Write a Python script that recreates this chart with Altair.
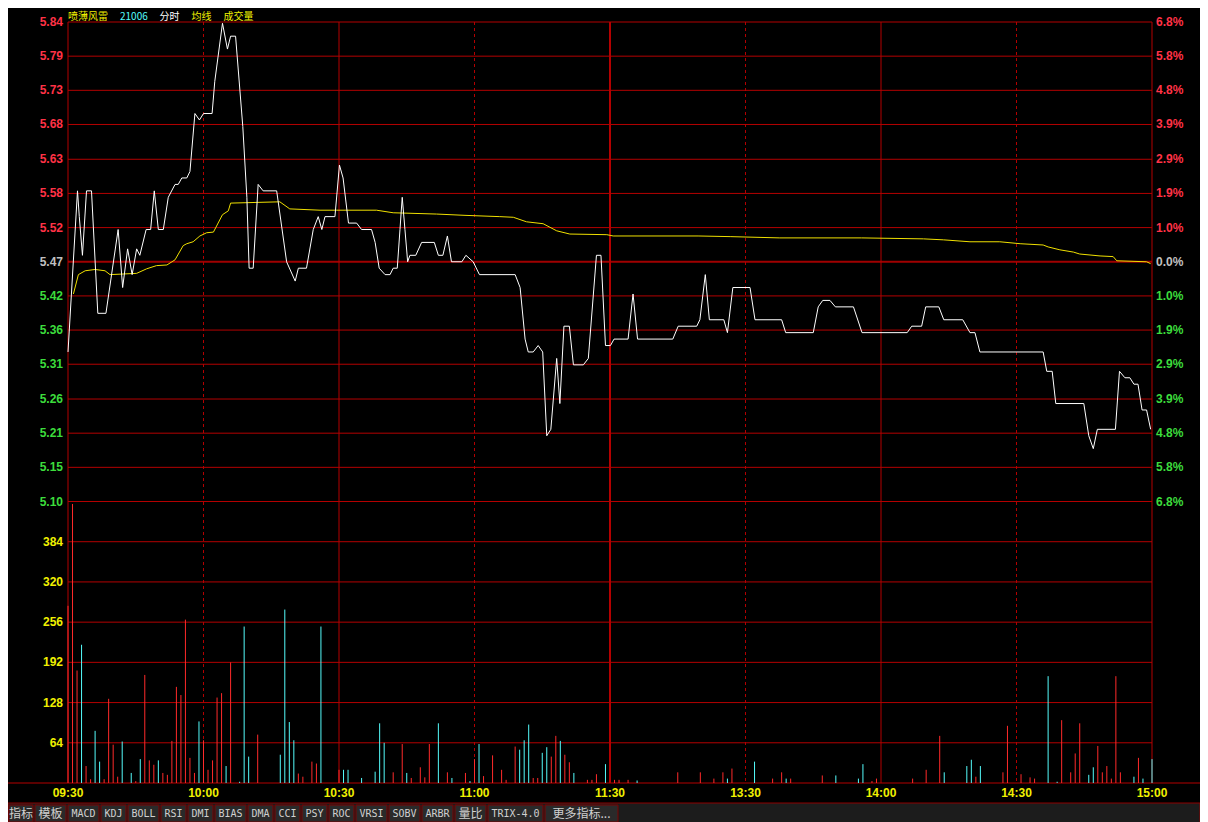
import altair as alt
import pandas as pd

# ---------------- data ----------------
STOCK_NAME = "喷薄风雷"
STOCK_CODE = "21006"

price_minutes = [0, 2.1, 2.5, 3.2, 4.1, 5.2, 6.6, 8.4, 11.1, 12.1, 13.2, 14.2, 15.2, 15.9,
                 17.3, 18.3, 19.1, 20.0, 21.1, 22.2, 23.7, 24.4, 25.2, 26.3, 27.0, 28.1,
                 29.1, 30.0, 31.9, 32.5, 34.2, 35.3, 36.0, 37.1, 38.7, 39.6, 40.1, 41.0,
                 42.1, 43.2, 46.2, 48.4, 50.3, 51.0, 52.8, 54.3, 55.4, 56.2, 56.9, 59.1,
                 60.1, 60.9, 62.1, 63.9, 65.0, 67.2, 68.0, 68.9, 70.2, 71.3, 72.0, 72.9,
                 73.5, 74.0, 74.6, 75.2, 75.7, 77.0, 78.3, 81.1, 82.0, 83.0, 84.0, 84.9,
                 87.2, 88.1, 89.7, 91.1, 99.0, 100.1, 101.2, 101.9, 103.0, 104.1, 105.1,
                 106.0, 106.9, 108.2, 108.9, 109.8, 111.0, 111.9, 114.1, 115.2, 117.0,
                 118.0, 119.0, 120.1, 120.9, 124.0, 125.1, 126.1, 133.9, 135.1, 139.2,
                 139.9, 141.1, 142.0, 145.2, 146.0, 147.2, 151.0, 152.1, 158.0, 158.9,
                 165.0, 166.1, 167.1, 168.7, 169.9, 173.9, 175.8, 185.8, 186.8, 189.0,
                 189.9, 192.8, 193.9, 198.1, 199.7, 200.8, 201.9, 215.9, 216.7, 217.9,
                 218.7, 224.9, 226.0, 227.0, 227.9, 231.9, 232.8, 234.0, 235.1, 236.0,
                 236.9, 237.8, 238.8, 239.7]
price_values = [5.33, 5.58, 5.54, 5.48, 5.58, 5.58, 5.39, 5.39, 5.52, 5.43, 5.49, 5.45, 5.49, 5.48,
                5.52, 5.52, 5.58, 5.52, 5.52, 5.57, 5.59, 5.59, 5.60, 5.60, 5.61, 5.70,
                5.69, 5.70, 5.70, 5.75, 5.84, 5.80, 5.82, 5.82, 5.68, 5.57, 5.46, 5.46,
                5.59, 5.58, 5.58, 5.47, 5.44, 5.46, 5.46, 5.52, 5.54, 5.52, 5.54, 5.54,
                5.62, 5.60, 5.53, 5.53, 5.52, 5.52, 5.50, 5.46, 5.45, 5.45, 5.46, 5.46,
                5.52, 5.57, 5.52, 5.47, 5.48, 5.48, 5.50, 5.50, 5.48, 5.48, 5.51, 5.47,
                5.47, 5.48, 5.47, 5.45, 5.45, 5.43, 5.35, 5.33, 5.33, 5.34, 5.33,
                5.20, 5.21, 5.32, 5.25, 5.37, 5.37, 5.31, 5.31, 5.32, 5.48,
                5.48, 5.34, 5.34, 5.35, 5.35, 5.42, 5.35, 5.35, 5.37, 5.37,
                5.38, 5.45, 5.38, 5.38, 5.36, 5.43, 5.43, 5.38, 5.38, 5.36,
                5.36, 5.40, 5.41, 5.41, 5.40, 5.40, 5.36, 5.36, 5.37, 5.37,
                5.40, 5.40, 5.38, 5.38, 5.36, 5.36, 5.33, 5.33, 5.30, 5.30,
                5.25, 5.25, 5.20, 5.18, 5.21, 5.21, 5.30, 5.29, 5.29, 5.28,
                5.28, 5.24, 5.24, 5.21]

avg_minutes = [1.2, 2.3, 3.8, 6.0, 8.2, 9.3, 15.2, 17.4, 19.6, 21.9, 23.7, 25.5, 26.3, 27.7,
               29.2, 30.7, 32.2, 34.2, 35.5, 36.0, 46.9, 49.1, 55.8, 59.5, 68.3, 72.0, 81.6,
               87.9, 95.6, 98.6, 101.5, 105.2, 108.2, 111.1, 119.3, 120.7, 139.5, 146.6,
               157.6, 175.7, 189.4, 193.8, 199.7, 206.3, 210.8, 215.9, 217.0, 219.6, 222.6,
               224.0, 228.5, 231.4, 232.2, 238.8, 239.7]
avg_values = [5.420, 5.450, 5.456, 5.458, 5.456, 5.450, 5.452, 5.459, 5.464, 5.465, 5.473, 5.495,
              5.498, 5.501, 5.510, 5.515, 5.516, 5.543, 5.549, 5.561, 5.563, 5.552, 5.550, 5.550,
              5.550, 5.546, 5.544, 5.542, 5.540, 5.539, 5.532, 5.529, 5.518, 5.513, 5.512, 5.510,
              5.510, 5.509, 5.507, 5.507, 5.5055, 5.504, 5.501, 5.501, 5.498, 5.496, 5.493,
              5.4885, 5.485, 5.482, 5.479, 5.478, 5.4715, 5.470, 5.467]

vol_minutes = [0, 1, 2, 3, 4, 5, 6, 7, 8, 9, 10, 11, 12, 14, 15, 16, 17, 18, 19, 20,
               21, 22, 23, 24, 25, 26, 27, 28, 29, 30, 31, 32, 33, 34, 35, 36, 38, 39, 40, 42,
               47, 48, 49, 50, 51, 52, 54, 55, 56, 60, 61, 62, 65, 68, 69, 70, 72, 74, 75, 76,
               78, 79, 80, 82, 84, 85, 88, 89, 90, 91, 92, 94, 96, 97, 99, 100, 101, 102, 103, 104,
               105, 106, 107, 108, 109, 110, 111, 112, 115, 116, 117, 119, 121, 122, 124, 126,
               135, 140, 143, 145, 146, 147, 152, 156, 158, 159, 160, 167, 170, 175, 176, 178,
               179, 187, 190, 193, 194, 199, 200, 201, 202, 207, 208, 211, 213, 214, 217, 219,
               220, 222, 223, 224, 226, 227, 228, 229, 230, 231, 232, 233, 236, 237, 238, 240]
vol_values = [282, 444, 179, 220, 27, 6, 83, 34, 6, 134, 61, 10, 66, 16, 3, 38, 172, 36, 29, 36,
              16, 13, 67, 153, 140, 260, 40, 16, 98, 68, 21, 36, 136, 143, 27, 192, 2, 249, 42, 77,
              45, 276, 97, 68, 15, 10, 34, 31, 249, 21, 21, 21, 8, 18, 95, 64, 17, 62, 16, 8,
              25, 9, 62, 95, 17, 8, 16, 3, 38, 62, 11, 44, 21, 5, 58, 53, 68, 93, 8, 8,
              48, 57, 42, 75, 67, 45, 33, 16, 5, 5, 14, 30, 5, 5, 5, 4,
              17, 17, 7, 17, 7, 23, 34, 7, 17, 7, 7, 12, 12, 7, 30, 3,
              7, 7, 21, 75, 17, 27, 37, 10, 27, 17, 91, 14, 9, 7, 170, 2,
              100, 17, 47, 95, 13, 25, 59, 17, 27, 7, 170, 17, 10, 40, 7, 38]
vol_dirs = ["u", "u", "u", "d", "u", "u", "d", "d", "u", "u", "u", "u", "d", "d", "u", "d", "u", "u", "u", "d",
            "u", "u", "u", "u", "u", "u", "u", "u", "d", "u", "u", "u", "u", "u", "d", "u", "d", "d", "d", "u",
            "d", "d", "d", "d", "u", "u", "u", "u", "d", "u", "d", "d", "d", "d", "d", "d", "u", "u", "d", "u",
            "u", "u", "u", "d", "u", "d", "u", "d", "u", "d", "u", "u", "u", "u", "u", "d", "d", "d", "u", "u",
            "d", "d", "u", "u", "d", "u", "u", "d", "u", "u", "u", "d", "u", "u", "u", "d",
            "u", "u", "u", "u", "d", "u", "d", "u", "u", "d", "u", "u", "d", "d", "d", "u",
            "u", "u", "u", "u", "d", "d", "d", "u", "d", "u", "u", "u", "u", "u", "d", "d",
            "u", "u", "u", "u", "d", "d", "u", "u", "u", "u", "u", "u", "d", "u", "d", "d"]

price_levels = [5.842, 5.789, 5.736, 5.683, 5.629, 5.576, 5.523, 5.470,
                5.417, 5.364, 5.311, 5.257, 5.204, 5.151, 5.098]
price_labels = ["5.84", "5.79", "5.73", "5.68", "5.63", "5.58", "5.52", "5.47",
                "5.42", "5.36", "5.31", "5.26", "5.21", "5.15", "5.10"]
pct_labels = ["6.8%", "5.8%", "4.8%", "3.9%", "2.9%", "1.9%", "1.0%", "0.0%",
              "1.0%", "1.9%", "2.9%", "3.9%", "4.8%", "5.8%", "6.8%"]
vol_ticks = [384, 320, 256, 192, 128, 64]
vol_top = 448
time_ticks = [0, 30, 60, 90, 120, 150, 180, 210, 240]
time_labels = ["09:30", "10:00", "10:30", "11:00", "11:30", "13:30", "14:00", "14:30", "15:00"]
toolbar_labels = ["指标", "模板", "MACD", "KDJ", "BOLL", "RSI", "DMI", "BIAS", "DMA", "CCI",
                  "PSY", "ROC", "VRSI", "SOBV", "ARBR", "量比", "TRIX-4.0", "更多指标..."]

# ---------------- layout / style ----------------
PAD_L, PAD_T = 60, 14      # plot origin inside the canvas
OX, OY = PAD_L + 8, PAD_T + 8   # plot origin in page pixels (8px page margin)
W, H = 1084, 761           # plot area (both panels)
PRICE_H = round(H * 482 / 765, 1)   # price panel share of the plot height
TOTAL_H = 814


def py(img_y):
    """page pixel row -> plot y"""
    return img_y - OY


def px(img_x):
    """page pixel column -> plot x"""
    return img_x - OX


GRID = "#b40000"
RED_TXT = "#ff3246"
GREEN_TXT = "#3cdc3c"
GRAY_TXT = "#c0c0c0"
YELLOW = "#f0f000"
CYAN = "#54fcfc"
BAR_RED = "#ff2a2a"
FONT = "Liberation Sans"

XS = alt.Scale(domain=[0, 240], nice=False, zero=False)
PS = alt.Scale(domain=[price_levels[-1], price_levels[0]], range=[PRICE_H, 0], nice=False, zero=False)
VS = alt.Scale(domain=[0, vol_top], range=[H, PRICE_H], nice=False, zero=False)

mid = len(price_levels) // 2
lev_df = pd.DataFrame({
    "level": price_levels,
    "plabel": price_labels,
    "pct": pct_labels,
    "side": ["up" if i < mid else ("mid" if i == mid else "down") for i in range(len(price_levels))],
})
side_scale = alt.Scale(domain=["up", "mid", "down"], range=[RED_TXT, GRAY_TXT, GREEN_TXT])

price_df = pd.DataFrame({"minute": price_minutes, "price": price_values})
avg_df = pd.DataFrame({"minute": avg_minutes, "price": avg_values})
vol_df = pd.DataFrame({"minute": vol_minutes, "vol": vol_values, "dir": vol_dirs})
vt_df = pd.DataFrame({"vol": vol_ticks, "label": [str(v) for v in vol_ticks]})
tt_df = pd.DataFrame({"minute": time_ticks, "label": time_labels})
tt_df["dashed"] = [(m % 60 == 30) for m in time_ticks]
tt_df["noon"] = [lab == "11:30" for lab in time_labels]


def txt_w(s, cjk, asc):
    return sum(cjk if ord(ch) > 255 else asc for ch in s)


# header pieces (kept inside the canvas top)
HEAD_FS = 10
head_items = [(STOCK_NAME, YELLOW), (STOCK_CODE, CYAN), ("分时", "#ffffff"), ("均线", YELLOW), ("成交量", YELLOW)]
hx, rows = 0, []
for t, c in head_items:
    rows.append({"x": hx, "y": py(17.4), "text": t, "color": c})
    hx += txt_w(t, HEAD_FS, HEAD_FS * 0.55) + 12
head_df = pd.DataFrame(rows)

# toolbar buttons (first one trimmed at the canvas edge)
LEFT_EDGE = px(9)
bx, brow = px(2), []
for t in toolbar_labels:
    w = txt_w(t, 12, 6) + 8
    x0 = max(bx, LEFT_EDGE)
    x1 = bx + w - 1
    brow.append({"x0": x0, "x1": x1, "xc": (x0 + x1) / 2, "text": t,
                 "cjk": any(ord(ch) > 255 for ch in t)})
    bx += w + 1
btn_df = pd.DataFrame(brow)

# ---------------- layers ----------------
base_x = alt.X("minute:Q", scale=XS, axis=None)

toolbar_bg = alt.Chart(pd.DataFrame({"a": [0]})).mark_rect(
    fill="#1c1c1c", stroke="#8c0000", strokeWidth=1).encode(
    x=alt.value(px(8)), x2=alt.value(px(1200)), y=alt.value(py(803)), y2=alt.value(py(824)))

btn_rect = alt.Chart(btn_df).mark_rect(fill="#2a2a2a", stroke="#7a0000", strokeWidth=1).encode(
    x=alt.X("x0:Q", scale=None, axis=None), x2="x1:Q", y=alt.value(py(805)), y2=alt.value(py(822)))

btn_txt_cjk = alt.Chart(btn_df[btn_df.cjk]).mark_text(
    font="Noto Sans CJK SC", fontSize=12, color="#d0d0d0", align="center", baseline="middle").encode(
    x=alt.X("xc:Q", scale=None, axis=None), y=alt.value(py(813.5)), text="text:N")
btn_txt_asc = alt.Chart(btn_df[~btn_df.cjk]).mark_text(
    font="DejaVu Sans Mono", fontSize=10, color="#d0d0d0", align="center", baseline="middle").encode(
    x=alt.X("xc:Q", scale=None, axis=None), y=alt.value(py(813.5)), text="text:N")

hgrid = alt.Chart(lev_df[lev_df.side != "mid"]).mark_rule(color=GRID, strokeWidth=1).encode(
    y=alt.Y("level:Q", scale=PS, axis=None))
hmid = alt.Chart(lev_df[lev_df.side == "mid"]).mark_rule(color="#a00000", strokeWidth=2).encode(
    y=alt.Y("level:Q", scale=PS, axis=None))

vgrid_solid = alt.Chart(tt_df[(~tt_df.dashed) & (~tt_df.noon)]).mark_rule(color=GRID, strokeWidth=1).encode(
    x=base_x)
vgrid_noon = alt.Chart(tt_df[tt_df.noon]).mark_rule(color=GRID, strokeWidth=2).encode(x=base_x)
vgrid_dash = alt.Chart(tt_df[tt_df.dashed]).mark_rule(color=GRID, strokeWidth=1, strokeDash=[3, 3]).encode(
    x=base_x)

vol_grid = alt.Chart(vt_df).mark_rule(color=GRID, strokeWidth=1).encode(
    y=alt.Y("vol:Q", scale=VS, axis=None))
base_line = alt.Chart(pd.DataFrame({"vol": [0]})).mark_rule(color=GRID, strokeWidth=1).encode(
    y=alt.Y("vol:Q", scale=VS, axis=None), x=alt.value(px(8)), x2=alt.value(px(1200)))

bars = alt.Chart(vol_df).mark_rule(strokeWidth=1).encode(
    x=base_x,
    y=alt.Y("vol:Q", scale=VS, axis=None),
    y2=alt.datum(0),
    color=alt.Color("dir:N", scale=alt.Scale(domain=["u", "d"], range=[BAR_RED, CYAN]), legend=None),
)

avg_line = alt.Chart(avg_df).mark_line(color="#f0e000", strokeWidth=1).encode(
    x=base_x, y=alt.Y("price:Q", scale=PS, axis=None))
price_line = alt.Chart(price_df).mark_line(color="#ffffff", strokeWidth=1).encode(
    x=base_x, y=alt.Y("price:Q", scale=PS, axis=None))

left_lab = alt.Chart(lev_df).mark_text(font=FONT, fontSize=12, fontWeight="bold", align="right",
                                       baseline="middle").encode(
    x=alt.value(-5), y=alt.Y("level:Q", scale=PS, axis=None), text="plabel:N",
    color=alt.Color("side:N", scale=side_scale, legend=None))
right_lab = alt.Chart(lev_df).mark_text(font=FONT, fontSize=12, fontWeight="bold", align="left",
                                        baseline="middle").encode(
    x=alt.value(W + 4), y=alt.Y("level:Q", scale=PS, axis=None), text="pct:N",
    color=alt.Color("side:N", scale=side_scale, legend=None))
vol_lab = alt.Chart(vt_df).mark_text(font=FONT, fontSize=12, fontWeight="bold", align="right",
                                     baseline="middle", color=YELLOW).encode(
    x=alt.value(-5), y=alt.Y("vol:Q", scale=VS, axis=None), text="label:N")
time_lab = alt.Chart(tt_df).mark_text(font=FONT, fontSize=12, fontWeight="bold", align="center",
                                      baseline="middle", color=YELLOW).encode(
    x=base_x, y=alt.value(py(793)), text="label:N")

header = alt.Chart(head_df).mark_text(font="Noto Sans CJK SC", fontSize=HEAD_FS, align="left",
                                      baseline="middle").encode(
    x=alt.X("x:Q", scale=None, axis=None), y=alt.Y("y:Q", scale=None, axis=None), text="text:N",
    color=alt.Color("color:N", scale=None))

chart = alt.layer(
    toolbar_bg, btn_rect, btn_txt_cjk, btn_txt_asc,
    hgrid, vol_grid, base_line, hmid, vgrid_solid, vgrid_noon, vgrid_dash,
    bars, avg_line, price_line,
    left_lab, right_lab, vol_lab, time_lab, header,
).resolve_scale(
    x="independent", y="independent", color="independent"
).properties(
    width=W, height=H,
    padding={"left": PAD_L, "top": PAD_T, "right": 1192 - PAD_L - W, "bottom": TOTAL_H - PAD_T - H},
    autosize=alt.AutoSizeParams(type="none"),
).configure(
    background="#000000"
).configure_view(
    stroke=None
)

chart.save("out.html", embed_options={"renderer": "svg", "actions": False})
